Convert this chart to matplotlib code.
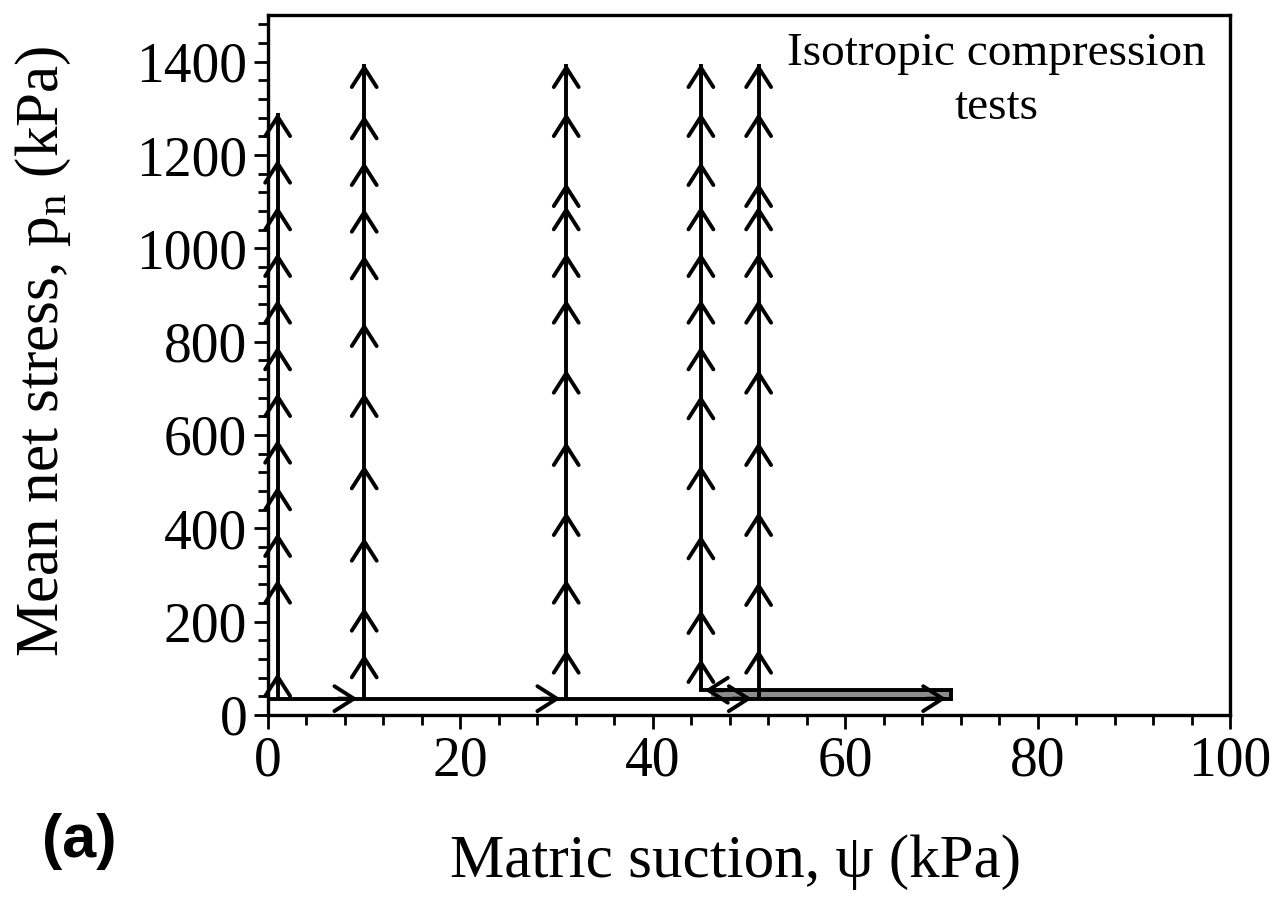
import matplotlib
matplotlib.use('Agg')
import matplotlib.pyplot as plt
from matplotlib.ticker import MultipleLocator

plt.rcParams['font.family'] = ['Liberation Serif', 'DejaVu Serif']
plt.rcParams['mathtext.fontset'] = 'custom'
plt.rcParams['mathtext.rm'] = 'Liberation Serif'
plt.rcParams['mathtext.it'] = 'Liberation Serif:italic'

# stress paths (psi in kPa, p_n in kPa)
psi_tests = [1, 10, 31, 45, 51]
p_start = [35, 35, 35, 53, 35]
p_end = [1290, 1395, 1395, 1395, 1395]
arrow_levels = [
    [90, 290, 390, 490, 590, 690, 790, 890, 990, 1090, 1190, 1290],
    [130, 230, 380, 535, 690, 840, 985, 1085, 1185, 1285, 1395],
    [140, 290, 435, 585, 740, 890, 990, 1090, 1140, 1290, 1395],
    [120, 225, 385, 535, 685, 790, 890, 990, 1090, 1185, 1290, 1395],
    [140, 285, 435, 585, 740, 890, 990, 1090, 1140, 1290, 1395],
]

# drying path at low net stress
drying_p = 35
drying_psi = [0, 71]
drying_arrows = [9.3, 30.4, 50.3, 70.5]

# grey band (overlapping paths) and wetting arrow back to 45 kPa
band_psi = [46, 71]
band_p = [35, 53]
wet_psi = [71, 45]
wet_arrow = 45.4

xticks = [0, 20, 40, 60, 80, 100]
yticks = [0, 200, 400, 600, 800, 1000, 1200, 1400]

fig = plt.figure(figsize=(12.83, 9.10), dpi=100)
ax = fig.add_axes([0.2089, 0.2143, 0.7498, 0.7692])

lw = 2.8
arr = dict(arrowstyle='->, head_length=0.5, head_width=0.32', lw=lw,
           color='black', mutation_scale=28, shrinkA=0, shrinkB=0)

# vertical compression paths
for psi, p0, p1, levels in zip(psi_tests, p_start, p_end, arrow_levels):
    ax.plot([psi, psi], [p0, p1], color='black', lw=lw, solid_capstyle='butt')
    for p in levels:
        ax.annotate('', xy=(psi, p), xytext=(psi, p - 25), arrowprops=arr)

# grey band
ax.fill_between(band_psi, band_p[0], band_p[1], color='0.55', lw=0)
ax.plot([band_psi[1], band_psi[1]], band_p, color='black', lw=lw)

# wetting path (upper edge)
ax.plot(wet_psi, [band_p[1], band_p[1]], color='black', lw=lw)
ax.annotate('', xy=(wet_arrow, band_p[1]), xytext=(wet_arrow + 2, band_p[1]),
            arrowprops=arr)

# drying path
ax.plot(drying_psi, [drying_p, drying_p], color='black', lw=lw)
for s in drying_arrows:
    ax.annotate('', xy=(s, drying_p), xytext=(s - 2, drying_p), arrowprops=arr)

ax.set_xlim(0, 100)
ax.set_ylim(0, 1500)
ax.set_xticks(xticks)
ax.set_yticks(yticks)
ax.xaxis.set_minor_locator(MultipleLocator(4))
ax.yaxis.set_minor_locator(MultipleLocator(40))
ax.tick_params(which='major', length=10, width=2, labelsize=40, pad=5,
               direction='out')
ax.tick_params(which='minor', length=7, width=2, direction='out')
ax.tick_params(top=False, right=False, which='both')
for sp in ax.spines.values():
    sp.set_linewidth(2.4)

ax.set_xlabel('Matric suction, \u03c8 (kPa)', fontsize=44)
ax.set_ylabel('Mean net stress, $\\mathregular{p_n}$ (kPa)', fontsize=44)
ax.xaxis.set_label_coords(0.486, -0.17)
ax.yaxis.set_label_coords(-0.203, 0.52)

ax.text(0.757, 0.975, 'Isotropic compression\ntests', transform=ax.transAxes,
        ha='center', va='top', fontsize=34, linespacing=1.35)

fig.text(0.033, 0.058, '(a)', fontsize=44, fontweight='bold',
         family=['Liberation Sans', 'DejaVu Sans'])

fig.savefig('out.png', dpi=100)
